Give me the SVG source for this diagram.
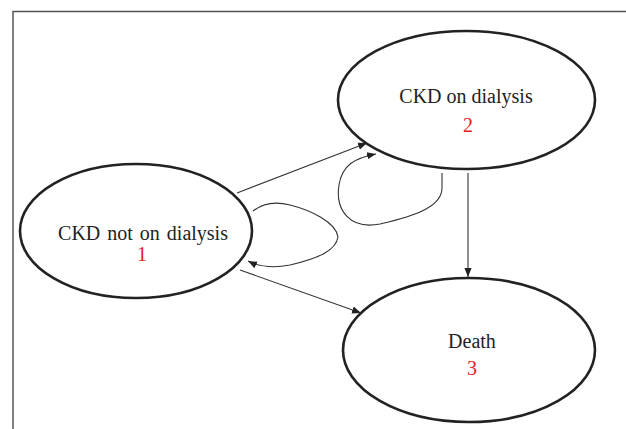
<svg xmlns="http://www.w3.org/2000/svg" width="626" height="429" viewBox="0 0 626 429">
<style>
.node{fill:#fff;stroke:#222;stroke-width:2.6}
.lbl{font-family:"Liberation Serif","DejaVu Serif",serif;font-size:20px;fill:#222;text-anchor:middle}
.num{font-family:"Liberation Serif","DejaVu Serif",serif;font-size:20px;fill:#e8201e;text-anchor:middle}
.edge{fill:none;stroke:#333;stroke-width:1.1}
</style>
<defs>
<marker id="ah" viewBox="0 0 10 10" refX="10" refY="5" markerWidth="9" markerHeight="9" markerUnits="userSpaceOnUse" orient="auto">
<path d="M0,1 L10,5 L0,9 Z" fill="#222"/>
</marker>
</defs>
<rect width="626" height="429" fill="#fff"/>
<path d="M13,429 V11.5 H626" fill="none" stroke="#555" stroke-width="1.5"/>
<g id="connectors">
<path class="edge" d="M237,193 L367,143" marker-end="url(#ah)"/>
<path class="edge" d="M442,173 V188 C442,205 420,215 380,224 C350,230 335,210 339,185 C342,165 355,158 376,154" marker-end="url(#ah)"/>
<path class="edge" d="M253,211 C262,204 275,201 290,205 C310,210 336,222 338,237 C336,250 320,258 290,265 C270,269 258,266 248,261" marker-end="url(#ah)"/>
<path class="edge" d="M240,270 L361,313" marker-end="url(#ah)"/>
<path class="edge" d="M468,173 V277" marker-end="url(#ah)"/>
</g>
<g id="node1">
<ellipse class="node" cx="136" cy="231" rx="116" ry="67"/>
<text class="lbl" x="143" y="240" word-spacing="2">CKD not on dialysis</text>
<text class="num" x="142" y="261">1</text>
</g>
<g id="node2">
<ellipse class="node" cx="466.5" cy="100" rx="128.5" ry="69"/>
<text class="lbl" x="466" y="103">CKD on dialysis</text>
<text class="num" x="468" y="132">2</text>
</g>
<g id="node3">
<ellipse class="node" cx="469" cy="350" rx="126" ry="72"/>
<text class="lbl" x="472" y="348">Death</text>
<text class="num" x="472" y="375">3</text>
</g>
</svg>
